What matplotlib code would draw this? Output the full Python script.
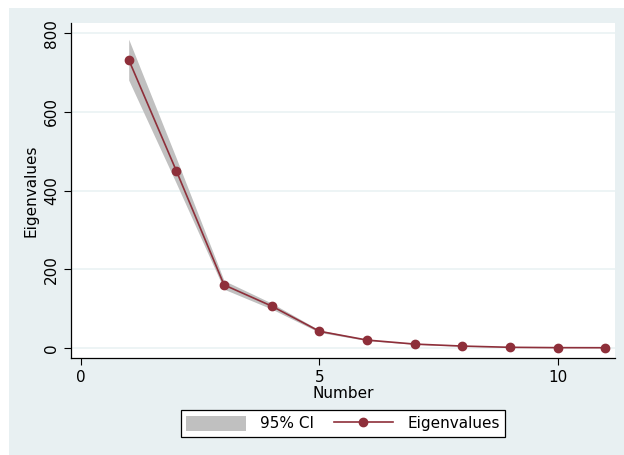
import numpy as np
import matplotlib
matplotlib.use("Agg")
import matplotlib.pyplot as plt
from matplotlib.patches import Rectangle

# eigenvalues read from the screeplot, with 95% CI band
number = [1, 2, 3, 4, 5, 6, 7, 8, 9, 10, 11]
eigen = [733, 450, 160, 106, 42, 19.6, 9.4, 4.3, 1.2, 0.3, 0.1]
ci_low = [681, 418, 149, 98.5, 39, 18.2, 8.7, 4.0, 1.1, 0.3, 0.1]
ci_high = [785, 482, 171, 113.5, 45, 21.0, 10.1, 4.6, 1.3, 0.3, 0.1]

bg = "#E8F0F2"
maroon = "#8E2F3A"

fig = plt.figure(figsize=(6.24, 4.55), dpi=100)
fig.patch.set_facecolor("white")
fig.patches.append(Rectangle((9 / 624, 0), 1, (455 - 8) / 455,
                             transform=fig.transFigure, facecolor=bg,
                             edgecolor="none", zorder=-10))

ax = fig.add_axes([71 / 624, 1 - 358 / 455, (615 - 71) / 624, (358 - 23.5) / 455])
ax.set_facecolor("white")

ax.fill_between(number, ci_low, ci_high, color="#C0C0C0", linewidth=0, label="95% CI")
ax.plot(number, eigen, color=maroon, linewidth=1.2, marker="o", markersize=6,
        label="Eigenvalues")

ax.set_xlim(-0.21, 11.2)
ax.set_ylim(-26, 825)
ax.set_xticks([0, 5, 10])
ax.set_yticks([0, 200, 400, 600, 800])
ax.grid(axis="y", color="#EAF2F3", linewidth=1.2)
ax.set_axisbelow(True)

for s in ["top", "right"]:
    ax.spines[s].set_visible(False)
for s in ["left", "bottom"]:
    ax.spines[s].set_color("black")
    ax.spines[s].set_linewidth(0.9)

ax.tick_params(direction="out", length=5, width=0.8, labelsize=11, colors="black")
plt.setp(ax.get_yticklabels(), rotation=90, va="center")
ax.set_xlabel("Number", fontsize=11, labelpad=1)
ax.set_ylabel("Eigenvalues", fontsize=11, labelpad=4)

leg = ax.legend(loc="center", bbox_to_anchor=(343 / 624, 1 - 423.5 / 455),
                bbox_transform=fig.transFigure, ncol=2, frameon=True,
                fancybox=False, edgecolor="black", framealpha=1, fontsize=11,
                handlelength=3.9, handleheight=1.2, columnspacing=1.3,
                handletextpad=0.9, borderpad=0.35)
leg.get_frame().set_linewidth(0.9)

fig.savefig("out.png", dpi=100, facecolor=fig.get_facecolor())
